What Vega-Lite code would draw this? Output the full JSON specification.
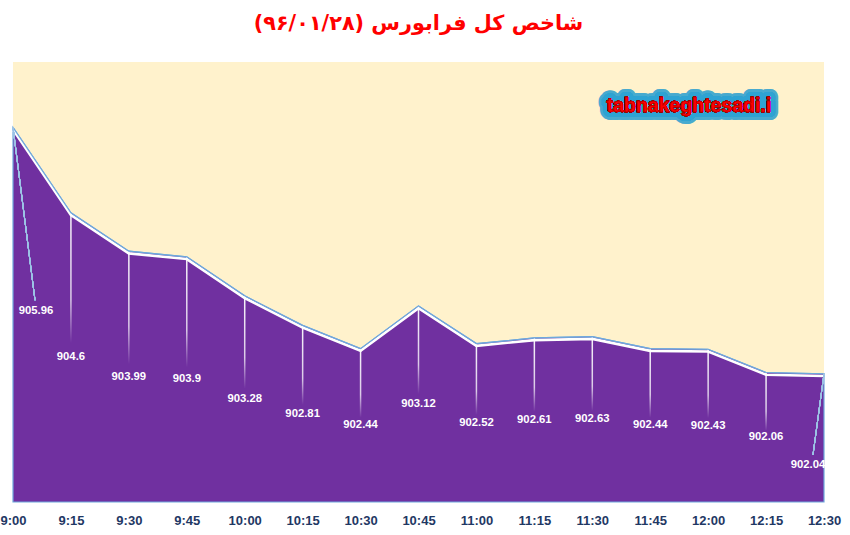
{
  "$schema": "https://vega.github.io/schema/vega-lite/v6.json",
  "width": 811,
  "height": 440,
  "autosize": {"type": "none"},
  "padding": {"left": 13, "top": 62, "right": 26, "bottom": 33},
  "background": "#ffffff",
  "title": {
    "text": "‏شاخص کل فرابورس (۹۶/۰۱/۲۸)‏",
    "font": "DejaVu Sans",
    "fontSize": 20.8,
    "fontWeight": "bold",
    "color": "#ff0000",
    "anchor": "middle",
    "frame": "group",
    "offset": 27
  },
  "data": {
    "values": [
      {"minute": 0, "value": 905.96},
      {"minute": 15, "value": 904.6},
      {"minute": 30, "value": 903.99},
      {"minute": 45, "value": 903.9},
      {"minute": 60, "value": 903.28},
      {"minute": 75, "value": 902.81},
      {"minute": 90, "value": 902.44},
      {"minute": 105, "value": 903.12},
      {"minute": 120, "value": 902.52},
      {"minute": 135, "value": 902.61},
      {"minute": 150, "value": 902.63},
      {"minute": 165, "value": 902.44},
      {"minute": 180, "value": 902.43},
      {"minute": 195, "value": 902.06},
      {"minute": 210, "value": 902.04}
    ]
  },
  "encoding": {
    "x": {
      "field": "minute",
      "type": "quantitative",
      "scale": {"domain": [0, 210], "nice": false, "zero": false, "padding": 0},
      "axis": {
        "title": null,
        "values": [0, 15, 30, 45, 60, 75, 90, 105, 120, 135, 150, 165, 180, 195, 210],
        "labelExpr": "(9 + floor(datum.value / 60)) + ':' + (datum.value % 60 == 0 ? '00' : (datum.value % 60))",
        "labelFlush": false,
        "labelOverlap": false,
        "ticks": false,
        "domain": false,
        "grid": false,
        "labelPadding": 12,
        "labelFont": "Liberation Sans",
        "labelFontSize": 13,
        "labelFontWeight": "bold",
        "labelColor": "#1f3864"
      }
    }
  },
  "layer": [
    {
      "mark": {"type": "area", "color": "#7030a0", "stroke": "#6fa8dc", "strokeWidth": 1.2, "opacity": 1},
      "encoding": {
        "y": {"field": "value", "type": "quantitative", "scale": {"domain": [900, 907], "zero": false, "nice": false}, "axis": null},
        "y2": {"datum": 900}
      }
    },
    {
      "transform": [{"filter": "datum.minute > 0 && datum.minute < 210"}],
      "mark": {
        "type": "bar",
        "width": 1.5,
        "fill": {
          "gradient": "linear",
          "x1": 0, "y1": 0, "x2": 0, "y2": 1,
          "stops": [
            {"offset": 0, "color": "rgba(255,255,255,0.95)"},
            {"offset": 0.3, "color": "rgba(255,255,255,0.75)"},
            {"offset": 0.45, "color": "rgba(255,255,255,0)"},
            {"offset": 1, "color": "rgba(255,255,255,0)"}
          ]
        }
      },
      "encoding": {
        "y": {"field": "value", "type": "quantitative", "scale": {"domain": [900, 907], "zero": false, "nice": false}, "axis": null},
        "y2": {"datum": 900}
      }
    },
    {
      "mark": {"type": "line", "color": "#ffffff", "strokeWidth": 2.6, "yOffset": 2.2},
      "encoding": {
        "y": {"field": "value", "type": "quantitative", "scale": {"domain": [900, 907], "zero": false, "nice": false}, "axis": null}
      }
    },
    {
      "mark": {"type": "line", "color": "#6fa8dc", "strokeWidth": 1.2},
      "encoding": {
        "y": {"field": "value", "type": "quantitative", "scale": {"domain": [900, 907], "zero": false, "nice": false}, "axis": null}
      }
    },
    {
      "mark": {"type": "rule", "color": "#9dc3e6", "strokeWidth": 1},
      "encoding": {
        "x": {"datum": 0, "type": "quantitative"},
        "x2": {"datum": 5.7},
        "y": {"datum": 905.96, "type": "quantitative", "scale": {"domain": [900, 907], "zero": false, "nice": false}, "axis": null},
        "y2": {"datum": 903.21}
      }
    },
    {
      "mark": {"type": "rule", "color": "#9dc3e6", "strokeWidth": 1},
      "encoding": {
        "x": {"datum": 210, "type": "quantitative"},
        "x2": {"datum": 207.15},
        "y": {"datum": 902.04, "type": "quantitative", "scale": {"domain": [900, 907], "zero": false, "nice": false}, "axis": null},
        "y2": {"datum": 900.75}
      }
    },
    {
      "transform": [{"filter": "datum.minute > 0 && datum.minute < 210"}],
      "mark": {"type": "text", "color": "#ffffff", "font": "Liberation Sans", "fontSize": 11.3, "fontWeight": "bold", "baseline": "middle"},
      "encoding": {
        "y": {"field": "value", "type": "quantitative", "scale": {"domain": [900, 914], "zero": false, "nice": false}, "axis": null},
        "text": {"field": "value", "type": "quantitative", "format": ".2~f"}
      }
    },
    {
      "transform": [{"filter": "datum.minute == 0"}],
      "mark": {"type": "text", "color": "#ffffff", "font": "Liberation Sans", "fontSize": 11.3, "fontWeight": "bold", "baseline": "middle", "dx": 23, "dy": -4},
      "encoding": {
        "y": {"field": "value", "type": "quantitative", "scale": {"domain": [900, 914], "zero": false, "nice": false}, "axis": null},
        "text": {"field": "value", "type": "quantitative", "format": ".2~f"}
      }
    },
    {
      "transform": [{"filter": "datum.minute == 210"}],
      "mark": {"type": "text", "color": "#ffffff", "font": "Liberation Sans", "fontSize": 11.3, "fontWeight": "bold", "baseline": "middle", "dx": -16, "dy": 27},
      "encoding": {
        "y": {"field": "value", "type": "quantitative", "scale": {"domain": [900, 914], "zero": false, "nice": false}, "axis": null},
        "text": {"field": "value", "type": "quantitative", "format": ".2~f"}
      }
    },
    {
      "mark": {"type": "text", "font": "Liberation Sans", "fontSize": 19.5, "fontWeight": "bold", "baseline": "middle", "color": "#2ea3d6", "opacity": 0.12, "stroke": "#2ea3d6", "strokeWidth": 16, "strokeJoin": "round"},
      "encoding": {
        "x": {"datum": 175, "type": "quantitative"},
        "y": {"datum": 906.3, "type": "quantitative", "scale": {"domain": [900, 907], "zero": false, "nice": false}, "axis": null},
        "text": {"value": "tabnakeghtesadi.i"}
      }
    },
    {
      "mark": {"type": "text", "font": "Liberation Sans", "fontSize": 19.5, "fontWeight": "bold", "baseline": "middle", "color": "#2ea3d6", "opacity": 0.25, "stroke": "#2ea3d6", "strokeWidth": 10, "strokeJoin": "round"},
      "encoding": {
        "x": {"datum": 175, "type": "quantitative"},
        "y": {"datum": 906.3, "type": "quantitative", "scale": {"domain": [900, 907], "zero": false, "nice": false}, "axis": null},
        "text": {"value": "tabnakeghtesadi.i"}
      }
    },
    {
      "mark": {"type": "text", "font": "Liberation Sans", "fontSize": 19.5, "fontWeight": "bold", "baseline": "middle", "color": "#2ea3d6", "opacity": 0.4, "stroke": "#2ea3d6", "strokeWidth": 5, "strokeJoin": "round"},
      "encoding": {
        "x": {"datum": 175, "type": "quantitative"},
        "y": {"datum": 906.3, "type": "quantitative", "scale": {"domain": [900, 907], "zero": false, "nice": false}, "axis": null},
        "text": {"value": "tabnakeghtesadi.i"}
      }
    },
    {
      "mark": {"type": "text", "font": "Liberation Sans", "fontSize": 19.5, "fontWeight": "bold", "baseline": "middle", "color": "#ff0000", "stroke": "#a00000", "strokeWidth": 0.4},
      "encoding": {
        "x": {"datum": 175, "type": "quantitative"},
        "y": {"datum": 906.3, "type": "quantitative", "scale": {"domain": [900, 907], "zero": false, "nice": false}, "axis": null},
        "text": {"value": "tabnakeghtesadi.i"}
      }
    }
  ],
  "resolve": {"scale": {"y": "independent"}},
  "config": {
    "view": {"fill": "#fff2cc", "stroke": null}
  }
}
